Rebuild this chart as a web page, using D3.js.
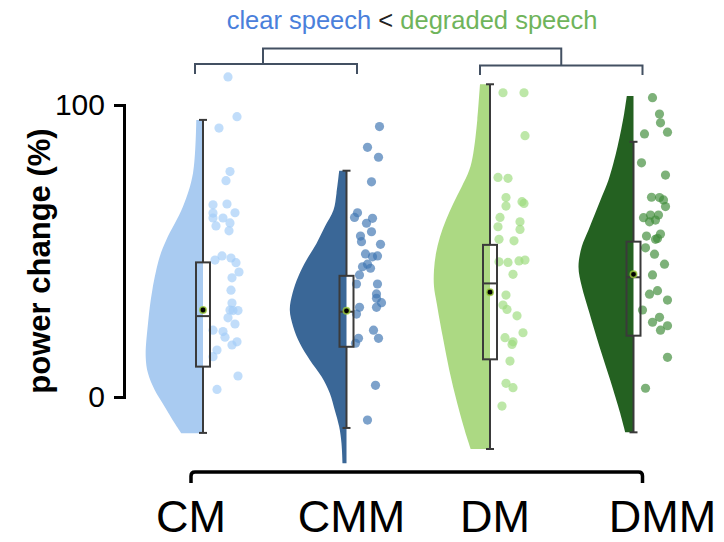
<!DOCTYPE html>
<html>
<head>
<meta charset="utf-8">
<script src="https://cdn.jsdelivr.net/npm/d3@7"></script>
<style>
  html, body { margin: 0; padding: 0; background: #fff; }
  svg { display: block; font-family: "Liberation Sans", Arial, Helvetica, sans-serif; }
</style>
</head>
<body>
<svg id="chart" width="724" height="542"></svg>
<script>
// ---- data -------------------------------------------------------------
const categories = ["CM", "CMM", "DM", "DMM"];
const yTicks = [0, 100];

// individual observations (power change, %) and their horizontal jitter (px)
const cmValues  = [109.6, 96.0, 92.1, 77.2, 74.1, 65.8, 66.1, 63.1, 63.0, 61.3, 61.3, 59.6, 58.6, 56.9, 46.9, 48.3, 47.6, 46.0, 42.8, 40.8, 36.6, 32.2, 29.8, 29.6, 29.6, 27.1, 25.0, 22.9, 22.4, 20.5, 18.9, 17.8, 16.1, 13.8, 7.2, 2.6];
const cmJitter  = [25, 34, 16, 27, 23, 10, 24, 32, 10, 10, 20, 27, 13, 26, 12, 19, 28, 33, 36, 29, 28, 29, 27, 30, 35, 25, 32, 10, 20, 22, 34, 29, 14, 10, 35, 14];

const cmmValues = [92.6, 85.5, 82.1, 73.7, 63.1, 61.5, 61.2, 59.5, 56.6, 55.1, 53.2, 52.3, 49.0, 48.0, 48.3, 45.5, 44.1, 44.6, 41.8, 38.7, 38.7, 35.3, 33.8, 32.3, 30.7, 30.7, 28.4, 22.9, 20.1, 20.1, 18.4, 4.0, -7.9];
const cmmJitter = [33, 21, 32, 25, 11, 8, 26, 20, 25, 14, 15, 34, 19, 26, 31, 21, 24, 16, 13, 10, 31, 30, 30, 35, 30, 13, 10, 27, 32, 12, 9, 29, 21];

const dmValues  = [104.2, 104.2, 89.5, 75.2, 74.9, 68.3, 66.9, 66.3, 65.4, 61.5, 58.3, 60.0, 57.4, 54.0, 53.5, 46.3, 46.1, 46.6, 46.9, 42.0, 34.9, 31.5, 30.0, 27.8, 22.0, 20.3, 18.9, 18.0, 12.3, 4.7, 3.2, -3.1];
const dmJitter  = [13, 34, 35, 8, 18, 16, 32, 34, 16, 10, 8, 30, 30, 9, 24, 9, 18, 29, 35, 23, 16, 13, 17, 27, 33, 15, 23, 22, 20, 16, 23, 12];

const dmmValues = [102.5, 96.9, 93.9, 90.7, 90.1, 80.2, 76.0, 68.4, 68.3, 67.5, 65.2, 61.4, 62.3, 62.3, 60.0, 60.6, 55.1, 54.0, 55.8, 54.3, 51.1, 48.9, 45.5, 41.8, 36.4, 35.2, 33.2, 29.8, 27.3, 25.6, 24.4, 22.9, 13.6, 3.0];
const dmmJitter = [19, 26, 27, 34, 11, 8, 32, 18, 26, 30, 32, 10, 17, 25, 16, 22, 13, 22, 27, 24, 12, 21, 31, 19, 24, 16, 34, 9, 26, 19, 34, 27, 34, 12];

// half-violin outlines: value levels and density width at each level
const cmViolinValues  = [94.9, 76.6, 65.2, 53.8, 48.0, 36.6, 25.2, 13.8, 8.1, 2.4, -3.3, -9.0, -12.4];
const cmViolinDensity = [6.7, 10, 20, 36.7, 43.3, 50.7, 55, 57.3, 55, 48.3, 38.3, 28.3, 21.7];

const cmmViolinValues  = [77.5, 69.8, 64.0, 58.3, 52.6, 46.9, 41.2, 35.5, 29.8, 24.1, 18.4, 12.7, 7.0, 1.3, -4.5, -10.2, -15.9, -22.7];
const cmmViolinDensity = [7.3, 10, 13, 21.7, 30, 40, 48.3, 54, 56.7, 53.3, 46.7, 36.7, 25, 16.7, 11.7, 7.3, 5, 4];

const dmViolinValues  = [107.1, 94.9, 83.5, 77.7, 72.0, 66.3, 60.6, 54.9, 49.2, 43.5, 37.8, 32.1, 20.7, 9.2, -2.2, -13.6, -17.8];
const dmViolinDensity = [10, 12.7, 16.7, 20.7, 28.3, 36.7, 44, 50, 54, 56, 56, 53.3, 47.3, 40.7, 32.7, 23.3, 19.3];

const dmmViolinValues  = [103.1, 97.2, 85.7, 74.3, 68.6, 62.9, 57.2, 51.5, 44.6, 37.8, 28.7, 17.2, 5.8, -5.6, -12.1];
const dmmViolinDensity = [6.7, 9.3, 16, 25, 31.7, 38.3, 45, 51.7, 55, 51.7, 44, 34, 23.3, 13.3, 8.3];

// box-plot summaries
const whiskerLow  = [-12.3, -10.6, -17.8, -12.1];
const whiskerHigh = [94.9, 77.5, 107.1, 87.4];
const q1Values     = [10.4, 17.2, 12.9, 21.0];
const medianValues = [27.7, 29.2, 38.9, 41.0];
const q3Values     = [46.1, 41.5, 52.1, 53.2];
const meanValues   = [29.8, 29.5, 35.9, 42.0];

// ---- styling ----------------------------------------------------------
const violinColors = ["#a9cbf1", "#3a6797", "#acd983", "#246121"];
const dotColors    = ["#a4cdf8", "#3f76b2", "#9edc7f", "#3f8c3a"];
const labelShift   = [-12, 5, 5, 29];

const svg = d3.select("#chart");

const x = d3.scalePoint().domain(categories).range([203, 633.5]);
const y = d3.scaleLinear().domain([0, 100]).range([397, 105]);
const w = d3.scaleLinear().domain([0, 60]).range([0, 60]);

const groups = categories.map((c, i) => ({
  name: c,
  values: [cmValues, cmmValues, dmValues, dmmValues][i],
  jitter: [cmJitter, cmmJitter, dmJitter, dmmJitter][i],
  violin: d3.zip(
    [cmViolinValues, cmmViolinValues, dmViolinValues, dmmViolinValues][i],
    [cmViolinDensity, cmmViolinDensity, dmViolinDensity, dmmViolinDensity][i]
  ),
  lo: whiskerLow[i], hi: whiskerHigh[i],
  q1: q1Values[i], med: medianValues[i], q3: q3Values[i], mean: meanValues[i],
  violinColor: violinColors[i], dotColor: dotColors[i], shift: labelShift[i]
}));

// ---- half violins -----------------------------------------------------
groups.forEach(g => {
  const cx = x(g.name);
  const area = d3.area()
    .curve(d3.curveCatmullRom.alpha(0.5))
    .y(d => y(d[0]))
    .x0(cx)
    .x1(d => cx - w(d[1]));
  svg.append("path")
    .attr("d", area(g.violin))
    .attr("fill", g.violinColor);
});

// ---- jittered points --------------------------------------------------
groups.forEach(g => {
  const cx = x(g.name);
  svg.append("g").selectAll("circle")
    .data(d3.zip(g.values, g.jitter))
    .join("circle")
    .attr("cx", d => cx + d[1])
    .attr("cy", d => y(d[0]))
    .attr("r", 4.6)
    .attr("fill", g.dotColor)
    .attr("fill-opacity", 0.68);
});

// ---- box plots --------------------------------------------------------
const boxHalf = 7, capHalf = 4;
const boxStroke = "#3a3a3a";
groups.forEach(g => {
  const cx = x(g.name);
  const gg = svg.append("g")
    .attr("stroke", boxStroke)
    .attr("stroke-width", 2)
    .attr("fill", "none");
  // whiskers
  gg.append("line").attr("x1", cx).attr("x2", cx).attr("y1", y(g.hi)).attr("y2", y(g.q3));
  gg.append("line").attr("x1", cx).attr("x2", cx).attr("y1", y(g.q1)).attr("y2", y(g.lo));
  gg.append("line").attr("x1", cx - capHalf).attr("x2", cx + capHalf).attr("y1", y(g.hi)).attr("y2", y(g.hi));
  gg.append("line").attr("x1", cx - capHalf).attr("x2", cx + capHalf).attr("y1", y(g.lo)).attr("y2", y(g.lo));
  // box
  gg.append("rect")
    .attr("x", cx - boxHalf).attr("width", boxHalf * 2)
    .attr("y", y(g.q3)).attr("height", y(g.q1) - y(g.q3));
  // median
  gg.append("line").attr("x1", cx - boxHalf).attr("x2", cx + boxHalf).attr("y1", y(g.med)).attr("y2", y(g.med));
  // mean
  svg.append("circle")
    .attr("cx", cx).attr("cy", y(g.mean)).attr("r", 3.2)
    .attr("fill", "#000")
    .attr("stroke", "#9ccc3c").attr("stroke-width", 1.6).attr("stroke-opacity", 0.8);
});

// ---- y axis -----------------------------------------------------------
const yAxis = svg.append("g")
  .attr("transform", "translate(124,0)")
  .call(d3.axisLeft(y).tickValues(yTicks).tickSize(10).tickSizeOuter(10).tickPadding(9));
yAxis.select(".domain").attr("stroke", "#000").attr("stroke-width", 3);
yAxis.selectAll(".tick line").attr("stroke", "#000").attr("stroke-width", 3);
yAxis.selectAll(".tick text")
  .attr("font-size", 30)
  .attr("font-family", "Liberation Sans, Arial, sans-serif")
  .attr("fill", "#000");

svg.append("text")
  .attr("transform", `translate(50,${(y(0) + y(100)) / 2 + 10}) rotate(-90)`)
  .attr("text-anchor", "middle")
  .attr("font-size", 31)
  .attr("font-weight", "bold")
  .text("power change (%)");

// ---- x axis bracket and labels ---------------------------------------
const xl = x(categories[0]) - 12, xr = x(categories[3]) + 9, yb = 472, rad = 4;
svg.append("path")
  .attr("d", `M${xl},${yb + 11} V${yb + rad} Q${xl},${yb} ${xl + rad},${yb} H${xr - rad} Q${xr},${yb} ${xr},${yb + rad} V${yb + 11}`)
  .attr("fill", "none")
  .attr("stroke", "#000")
  .attr("stroke-width", 3.5);

svg.append("g").selectAll("text")
  .data(groups)
  .join("text")
  .attr("x", d => x(d.name) + d.shift)
  .attr("y", 532)
  .attr("text-anchor", "middle")
  .attr("font-size", 45)
  .attr("fill", "#000")
  .text(d => d.name);

// ---- comparison brackets ---------------------------------------------
const bracketColor = "#435062";
const bk = svg.append("g")
  .attr("fill", "none")
  .attr("stroke", bracketColor)
  .attr("stroke-width", 2);
const lA = x("CM") - 8, lB = x("CMM") + 10.5;
const rA = x("DM") - 10, rB = x("DMM") + 9;
bk.append("path").attr("d", `M${lA},74 V64 H${lB} V74`);
bk.append("path").attr("d", `M${rA},75 V65.5 H${rB} V75`);
const tA = (lA + lB) / 2 - 13, tB = (rA + rB) / 2;
bk.append("path").attr("d", `M${tA},64 V48.5 H${tB} V65.5`);

const title = svg.append("text")
  .attr("x", 412)
  .attr("y", 29)
  .attr("text-anchor", "middle")
  .attr("font-size", 25.5);
title.append("tspan").attr("fill", "#4a80db").text("clear speech");
title.append("tspan").attr("fill", "#222").text(" < ");
title.append("tspan").attr("fill", "#6fb45b").text("degraded speech");
</script>
</body>
</html>
